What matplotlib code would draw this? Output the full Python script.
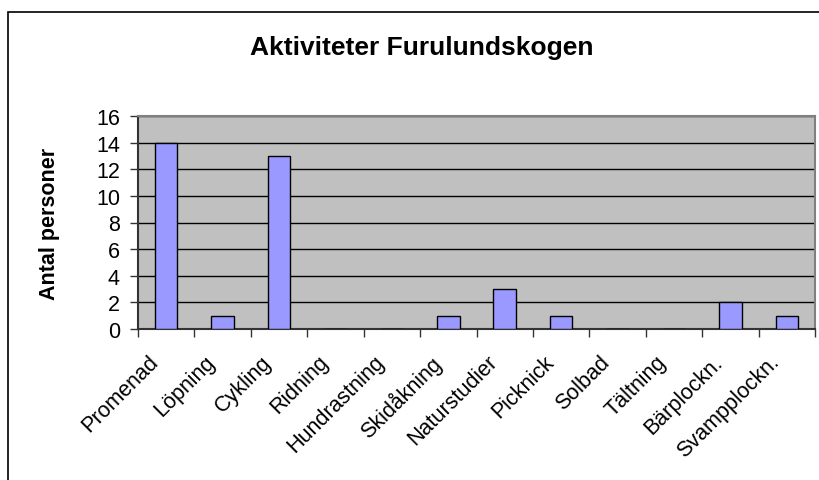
# coding: utf-8
"""Aktiviteter Furulundskogen - bar chart
"""
import numpy as np
import matplotlib
matplotlib.use("Agg")
import matplotlib.pyplot as plt
import matplotlib.transforms as mtransforms
from matplotlib.patches import Rectangle

plt.rcParams['font.family'] = ['Liberation Sans', 'DejaVu Sans']

###############################################################################
# data
activities = ["Promenad", "Löpning", "Cykling", "Ridning", "Hundrastning",
              "Skidåkning", "Naturstudier", "Picknick", "Solbad", "Tältning",
              "Bärplockn.", "Svampplockn."]
persons = [14, 1, 13, 0, 0, 1, 3, 1, 0, 0, 2, 1]
y_ticks = [0, 2, 4, 6, 8, 10, 12, 14, 16]

###############################################################################
# plotting
W, H = 819, 481
fig = plt.figure(figsize=(W / 100.0, H / 100.0), dpi=100)
fig.patch.set_facecolor("white")

# outer chart border (bottom and right run past the picture)
fig.add_artist(Rectangle((8.0 / W, -0.1), 1.2, 1 - 13.0 / H + 0.1,
                         transform=fig.transFigure, fill=False,
                         edgecolor="#000000", linewidth=1.2, clip_on=False))

ax = fig.add_axes([138.0 / W, 1 - 330.0 / H, (815.0 - 138.0) / W,
                   (330.0 - 117.0) / H])
ax.set_facecolor("#C0C0C0")

x = np.arange(len(activities))
ax.bar(x, persons, width=0.4, color="#9999FF", edgecolor="black",
       linewidth=1.0, zorder=3)

ax.set_xlim(-0.5, len(activities) - 0.5)
ax.set_ylim(0, 16)
ax.set_yticks(y_ticks)
ax.set_yticklabels([str(v) for v in y_ticks], fontsize=15.5)
ax.yaxis.grid(True, color="black", linewidth=1.0, zorder=1)
ax.set_axisbelow(True)

# category labels drawn as rotated texts, anchored a bit left of centre
ax.set_xticks(x)
ax.set_xticklabels([])
ax.tick_params(axis="x", which="major", length=0)
offset = mtransforms.ScaledTranslation(-0.18, -0.22, fig.dpi_scale_trans)
for xi, name in zip(x, activities):
    ax.text(xi, 0, name, transform=ax.get_xaxis_transform() + offset,
            rotation=45, ha="right", va="top", rotation_mode="anchor",
            fontsize=15.5)
ax.set_xticks(np.arange(len(activities) + 1) - 0.5, minor=True)
ax.tick_params(axis="x", which="minor", length=6, width=1.0,
               direction="out", color="#333333")
ax.tick_params(axis="y", length=6, width=1.0, direction="out",
               color="#333333", pad=7)

for side in ["top", "right"]:
    ax.spines[side].set_color("#808080")
    ax.spines[side].set_linewidth(1.5)
for side in ["left", "bottom"]:
    ax.spines[side].set_color("#333333")
    ax.spines[side].set_linewidth(1.5)

ax.set_ylabel("Antal personer", fontsize=15.5, fontweight="bold", labelpad=26)
fig.text(422.0 / W, 1 - 48.0 / H, "Aktiviteter Furulundskogen",
         fontsize=19, fontweight="bold", ha="center", va="center")

plt.savefig("out.png", dpi=100)
